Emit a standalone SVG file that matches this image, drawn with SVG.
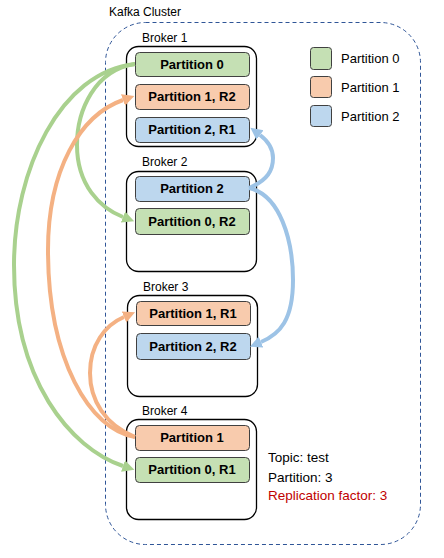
<svg xmlns="http://www.w3.org/2000/svg" width="444" height="558" viewBox="0 0 444 558">
<style>
.lbl{font-family:"Liberation Sans",Arial,sans-serif;font-size:12px;fill:#000}
.pt{font-family:"Liberation Sans",Arial,sans-serif;font-size:13px;font-weight:bold;fill:#000;text-anchor:middle}
.lg{font-family:"Liberation Sans",Arial,sans-serif;font-size:13px;fill:#000}
.info{font-family:"Liberation Sans",Arial,sans-serif;font-size:13.5px;fill:#000}
.broker{fill:#fff;stroke:#000;stroke-width:1.3}
.p{stroke:#404040;stroke-width:1}
.g{fill:#C5E0B4}.o{fill:#F8CBAD}.b{fill:#BDD7EE}
.arr{fill:none;stroke-width:4}
</style>
<defs>
<marker id="mg" markerUnits="userSpaceOnUse" markerWidth="14" markerHeight="14" refX="0" refY="7" orient="auto" viewBox="0 0 14 14"><path d="M0,1 L12,7 L0,13 z" fill="#A9D18E"/></marker>
<marker id="mo" markerUnits="userSpaceOnUse" markerWidth="14" markerHeight="14" refX="0" refY="7" orient="auto" viewBox="0 0 14 14"><path d="M0,1 L12,7 L0,13 z" fill="#F4B183"/></marker>
<marker id="mb" markerUnits="userSpaceOnUse" markerWidth="14" markerHeight="14" refX="0" refY="7" orient="auto" viewBox="0 0 14 14"><path d="M0,1 L12,7 L0,13 z" fill="#9DC3E6"/></marker>
</defs>
<g id="cluster">
<rect x="105.5" y="22.5" width="315" height="522" rx="40" ry="40" fill="none" stroke="#2F5597" stroke-width="1" stroke-dasharray="4,3"/>
<text class="lbl" x="109" y="16">Kafka Cluster</text>
</g>
<g id="broker1">
<text class="lbl" x="142" y="42">Broker 1</text>
<rect class="broker" x="126.5" y="46.5" width="130" height="100" rx="12"/>
<rect class="p g" x="135.5" y="52.5" width="114" height="24" rx="4"/>
<text class="pt" x="192" y="68.5">Partition 0</text>
<rect class="p o" x="135.5" y="84.5" width="114" height="25" rx="4"/>
<text class="pt" x="192" y="101">Partition 1, R2</text>
<rect class="p b" x="135.5" y="117.5" width="114" height="25" rx="4"/>
<text class="pt" x="192" y="134">Partition 2, R1</text>
</g>
<g id="broker2">
<text class="lbl" x="142" y="166">Broker 2</text>
<rect class="broker" x="126.5" y="171.5" width="130" height="100" rx="12"/>
<rect class="p b" x="135.5" y="176.5" width="114" height="25" rx="4"/>
<text class="pt" x="192" y="193">Partition 2</text>
<rect class="p g" x="135.5" y="208.5" width="114" height="26" rx="4"/>
<text class="pt" x="192" y="225.5">Partition 0, R2</text>
</g>
<g id="broker3">
<text class="lbl" x="143" y="291">Broker 3</text>
<rect class="broker" x="127.5" y="295.5" width="130" height="101" rx="12"/>
<rect class="p o" x="136.5" y="301.5" width="114" height="24" rx="4"/>
<text class="pt" x="193" y="317.5">Partition 1, R1</text>
<rect class="p b" x="136.5" y="333.5" width="114" height="26" rx="4"/>
<text class="pt" x="193" y="350.5">Partition 2, R2</text>
</g>
<g id="broker4">
<text class="lbl" x="142" y="415">Broker 4</text>
<rect class="broker" x="126.5" y="419.5" width="130" height="100" rx="12"/>
<rect class="p o" x="135.5" y="425.5" width="114" height="25" rx="4"/>
<text class="pt" x="192" y="442">Partition 1</text>
<rect class="p g" x="135.5" y="457.5" width="114" height="25" rx="4"/>
<text class="pt" x="192" y="474">Partition 0, R1</text>
</g>
<g id="legend">
<rect class="p g" x="310.5" y="47.5" width="21" height="22" rx="3"/>
<text class="lg" x="341" y="62.5">Partition 0</text>
<rect class="p o" x="310.5" y="76.5" width="21" height="21" rx="3"/>
<text class="lg" x="341" y="91.5">Partition 1</text>
<rect class="p b" x="310.5" y="105.5" width="21" height="21" rx="3"/>
<text class="lg" x="341" y="120.5">Partition 2</text>
</g>
<g id="info">
<text class="info" x="268" y="462">Topic: test</text>
<text class="info" x="268" y="482">Partition: 3</text>
<text class="info" x="268" y="500" style="fill:#C00000">Replication factor: 3</text>
</g>
<g id="connectors">
<path class="arr" stroke="#A9D18E" marker-end="url(#mg)" d="M135,64 C60,72 14,170 14,265 C14,380 70,448 123,466"/>
<path class="arr" stroke="#A9D18E" marker-end="url(#mg)" d="M135,64 C95,70 77,110 77,145 C77,185 100,208 123,217"/>
<path class="arr" stroke="#F4B183" marker-end="url(#mo)" d="M135,437 C90,430 48,360 48,250 C48,170 80,115 123,100"/>
<path class="arr" stroke="#F4B183" marker-end="url(#mo)" d="M135,437 C105,425 90,400 90,373 C90,345 105,325 124,317"/>
<path class="arr" stroke="#9DC3E6" marker-end="url(#mb)" d="M249,188 C268,180 273,170 273,158 C273,148 268,141 260,135"/>
<path class="arr" stroke="#9DC3E6" marker-end="url(#mb)" d="M249,188 C280,195 293,240 293,280 C293,320 280,334 261,342"/>
</g>
</svg>
